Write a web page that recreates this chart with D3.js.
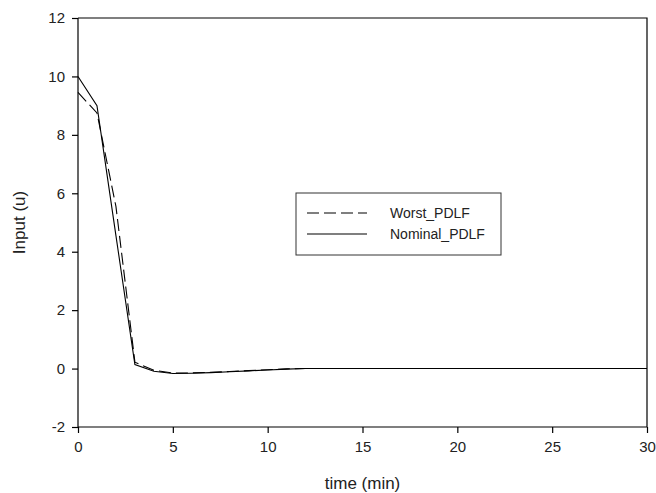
<!DOCTYPE html>
<html><head><meta charset="utf-8">
<script src="https://cdn.jsdelivr.net/npm/d3@7"></script>
<style>body{margin:0;background:#fff}svg{display:block;font-family:"Liberation Sans",Arial,sans-serif}</style>
</head><body><svg id="c" width="656" height="493"></svg>
<script>
const time = [0,1,2,3,4,5,6,7,8,9,10,11,12,13,14,15,16,17,18,19,20,21,22,23,24,25,26,27,28,29,30];
const nominal = [10,9.0,4.55,0.14,-0.09,-0.17,-0.16,-0.14,-0.11,-0.08,-0.05,-0.02,0,0,0,0,0,0,0,0,0,0,0,0,0,0,0,0,0,0,0];
const worst = [9.45,8.75,5.55,0.22,-0.06,-0.15,-0.15,-0.13,-0.10,-0.07,-0.04,-0.01,0,0,0,0,0,0,0,0,0,0,0,0,0,0,0,0,0,0,0];
const xTicks = [0,5,10,15,20,25,30];
const yTicks = [-2,0,2,4,6,8,10,12];
const seriesNames = ["Worst_PDLF","Nominal_PDLF"];

const svg = d3.select("#c");
const L=78,R=647,T=18,B=427;
const x = d3.scaleLinear().domain([0,30]).range([L,R]);
const y = d3.scaleLinear().domain([-2,12]).range([B,T]);

const fs = 15;
const gx = svg.append("g").attr("transform",`translate(0,${B})`)
  .call(d3.axisBottom(x).tickValues(xTicks).tickSize(6).tickPadding(8).tickFormat(d3.format("d")));
const gy = svg.append("g").attr("transform",`translate(${L},0)`)
  .call(d3.axisLeft(y).tickValues(yTicks).tickSize(6).tickPadding(7).tickFormat(d=>d<0?"-"+Math.abs(d):d));
[gx,gy].forEach(g=>{g.selectAll("text").attr("font-size",fs).attr("fill","#222").attr("font-family","Liberation Sans, Arial, sans-serif");
  g.selectAll("line,path").attr("stroke","#000").attr("stroke-width",1.2);});
gx.select(".domain").attr("d",`M${L},0H${R}`);
gy.select(".domain").attr("d",`M0,${T}V${B}`);
// top and right frame
svg.append("path").attr("d",`M${L},${T}H${R}V${B}`).attr("fill","none").attr("stroke","#000").attr("stroke-width",1.2);

const line = d3.line().x((d,i)=>x(time[i])).y(d=>y(d));
svg.append("path").datum(worst).attr("d",line).attr("fill","none").attr("stroke","#000").attr("stroke-width",1.1).attr("stroke-dasharray","12,5");
svg.append("path").datum(nominal).attr("d",line).attr("fill","none").attr("stroke","#000").attr("stroke-width",1.1);

svg.append("text").attr("x",(L+R)/2).attr("y",489).attr("text-anchor","middle").attr("font-size",17).attr("fill","#222").text("time (min)");
svg.append("text").attr("transform",`translate(25,${(T+B)/2}) rotate(-90)`).attr("text-anchor","middle").attr("font-size",17).attr("fill","#222").text("Input (u)");

// legend
const lg = svg.append("g");
lg.append("rect").attr("x",296).attr("y",193).attr("width",205).attr("height",62).attr("fill","#fff").attr("stroke","#333").attr("stroke-width",1);
const dash = ["12,5",null];
seriesNames.forEach((n,i)=>{
  const yy = 213 + i*21;
  lg.append("line").attr("x1",307).attr("x2",367).attr("y1",yy).attr("y2",yy).attr("stroke","#000").attr("stroke-width",1.1).attr("stroke-dasharray",dash[i]);
  lg.append("text").attr("x",390).attr("y",yy+5).attr("font-size",14).attr("fill","#222").text(n);
});
</script></body></html>
